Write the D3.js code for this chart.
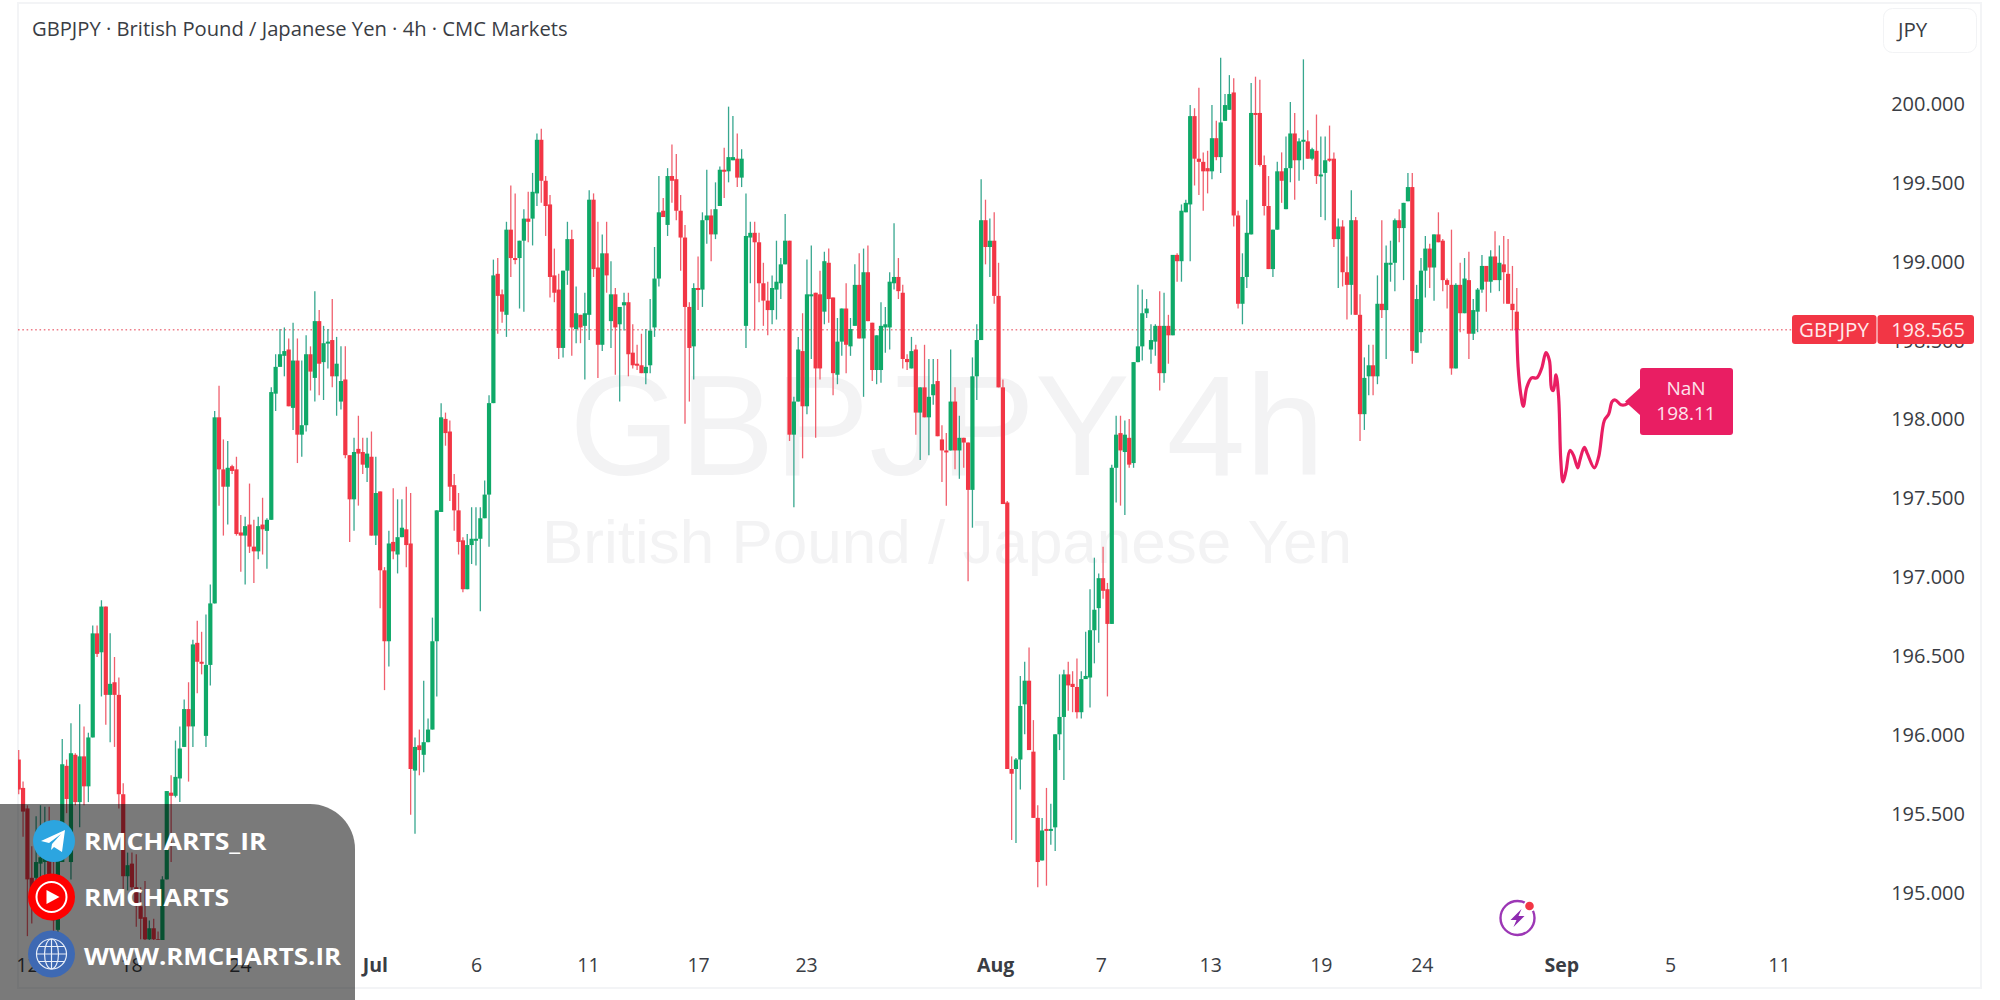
<!DOCTYPE html>
<html><head><meta charset="utf-8">
<script src="https://cdn.jsdelivr.net/npm/d3@7/dist/d3.min.js"></script>
<style>html,body{margin:0;padding:0;background:#fff;overflow:hidden}svg{display:block}</style>
</head><body><svg id="c" width="2000" height="1000"></svg>
<script>
const opens=[195.84,195.66,195.53,195.09,195.09,195.18,195.19,195.22,194.97,194.76,
195.19,195.80,195.19,195.87,195.57,195.86,195.67,195.98,196.64,196.52,
196.81,196.25,196.33,196.25,195.62,195.10,195.18,195.03,194.91,194.84,
194.70,194.77,194.70,194.60,195.08,195.63,195.61,195.72,195.92,196.16,
196.05,196.58,196.46,195.99,196.44,196.83,198.01,197.68,197.57,197.70,
197.68,197.28,197.26,197.33,197.19,197.16,197.33,197.29,197.36,198.16,
198.33,198.40,198.44,198.07,198.37,197.90,197.96,198.41,198.26,198.62,
198.36,198.48,198.50,198.27,198.11,198.25,197.77,197.49,197.81,197.79,
197.69,197.76,197.26,197.54,197.04,196.59,197.22,197.14,197.25,197.30,
197.21,195.77,195.93,195.87,195.95,196.03,196.59,197.41,198.00,197.92,
197.58,197.42,197.23,196.92,197.20,197.23,197.24,197.37,197.52,198.10,
198.92,198.79,198.66,199.20,199.02,199.02,199.13,199.27,199.27,199.43,
199.77,199.51,199.36,198.91,198.82,198.45,198.94,199.14,198.57,198.66,
198.59,198.66,199.39,198.96,198.47,199.05,198.62,198.79,198.60,198.72,
198.74,198.42,198.35,198.34,198.29,198.34,198.58,198.89,199.32,199.23,
199.54,199.52,199.32,199.15,198.71,198.46,198.83,198.82,199.26,199.29,
199.17,199.35,199.58,199.57,199.64,199.65,199.53,198.59,199.15,199.18,
199.12,198.86,198.75,198.69,198.82,198.86,198.98,199.13,197.90,198.11,
198.43,198.08,198.78,198.80,198.79,198.68,198.99,198.77,198.28,198.49,
198.70,198.46,198.59,198.85,198.51,198.93,198.61,198.31,198.31,198.58,
198.58,198.86,198.90,198.80,198.38,198.32,198.44,198.04,198.20,198.01,
198.15,198.24,197.87,197.80,197.80,198.11,197.80,197.88,197.85,197.55,
198.27,198.50,199.26,199.09,199.13,198.78,198.20,197.47,195.78,195.78,
195.84,196.19,196.34,195.89,195.47,195.20,195.40,195.39,195.41,196.00,
196.11,196.38,196.32,196.30,196.14,196.35,196.36,196.66,196.80,196.99,
196.92,196.70,197.69,197.91,197.79,197.88,197.72,198.36,198.46,198.67,
198.44,198.49,198.59,198.29,198.59,198.53,199.04,199.00,199.31,199.36,
199.92,199.65,199.63,199.59,199.57,199.78,199.66,199.89,199.96,200.07,
199.29,198.73,198.90,199.17,199.94,199.94,199.61,199.35,198.95,199.20,
199.57,199.33,199.59,199.81,199.64,199.76,199.76,199.65,199.70,199.54,
199.56,199.65,199.65,199.14,199.22,198.93,198.85,199.26,198.66,198.03,
198.27,198.34,198.27,198.73,198.69,198.99,198.99,199.26,199.21,199.38,
199.47,198.42,198.55,198.94,199.08,198.96,199.17,199.13,198.88,198.85,
198.32,198.85,198.67,198.88,198.54,198.68,198.82,198.97,198.87,199.03,
198.88,198.98,198.92,198.73,198.68];
const closes=[195.65,195.51,195.08,194.99,195.19,195.22,195.22,194.97,194.82,195.24,
195.81,195.59,195.88,195.57,195.86,195.67,195.98,196.64,196.51,196.81,
196.25,196.32,196.25,195.62,195.10,195.17,195.03,194.91,194.83,194.70,
194.77,194.70,194.60,195.08,195.64,195.61,195.73,195.91,196.16,196.05,
196.57,196.46,196.45,196.44,196.83,198.01,197.68,197.57,197.69,197.67,
197.27,197.26,197.32,197.19,197.16,197.32,197.30,197.36,198.17,198.33,
198.41,198.43,198.08,198.37,197.90,197.96,198.41,198.30,198.62,198.35,
198.48,198.49,198.27,198.35,198.24,197.77,197.49,197.79,197.78,197.71,
197.78,197.26,197.53,197.04,196.59,197.21,197.16,197.25,197.31,197.20,
195.78,195.92,195.90,195.95,196.03,196.59,197.42,198.01,197.91,197.57,
197.42,197.22,196.92,197.20,197.24,197.24,197.37,197.52,198.10,198.91,
198.78,198.68,199.20,199.02,199.01,199.13,199.27,199.25,199.44,199.77,
199.51,199.35,198.90,198.80,198.45,198.94,199.14,198.58,198.67,198.58,
198.67,199.39,198.95,198.47,199.05,198.91,198.79,198.58,198.71,198.74,
198.41,198.34,198.34,198.29,198.33,198.56,198.89,199.31,199.28,199.54,
199.51,199.32,199.15,198.71,198.45,198.83,198.82,199.26,199.29,199.17,
199.33,199.58,199.57,199.66,199.66,199.53,199.65,199.16,199.18,199.12,
198.86,198.75,198.69,198.83,198.87,198.98,199.13,197.90,198.11,198.44,
198.08,198.79,198.79,198.32,198.32,199.00,198.76,198.29,198.49,198.70,
198.47,198.57,198.85,198.51,198.93,198.62,198.31,198.53,198.59,198.60,
198.87,198.90,198.81,198.38,198.36,198.43,198.04,198.20,198.01,198.14,
198.22,197.89,197.80,197.79,198.11,197.80,197.88,197.85,197.55,198.27,
198.50,199.26,199.09,199.13,198.78,198.20,197.46,195.78,195.75,195.84,
196.18,196.34,195.90,195.47,195.19,195.39,195.39,195.40,196.00,196.11,
196.38,196.31,196.30,196.14,196.35,196.37,196.66,196.79,196.99,196.91,
196.70,197.69,197.90,197.80,197.90,197.71,198.36,198.46,198.67,198.70,
198.50,198.59,198.29,198.59,198.53,199.04,199.00,199.32,199.37,199.92,
199.65,199.63,199.57,199.57,199.78,199.66,199.88,199.99,200.06,199.29,
198.73,198.90,199.18,199.94,199.93,199.61,199.35,198.95,199.20,199.57,
199.51,199.59,199.81,199.64,199.76,199.77,199.65,199.71,199.54,199.55,
199.64,199.64,199.14,199.22,198.93,198.85,199.26,198.66,198.03,198.26,
198.34,198.27,198.73,198.69,198.99,198.99,199.26,199.21,199.37,199.47,
198.43,198.76,198.94,199.08,198.96,199.17,199.12,198.88,198.85,198.32,
198.85,198.67,198.89,198.54,198.69,198.82,198.97,198.87,199.03,198.88,
198.99,198.93,198.73,198.69,198.565];
const highs=[195.90,195.70,195.55,195.29,195.48,195.55,195.54,195.54,195.24,195.24,
195.97,195.84,196.07,195.88,196.19,196.05,196.01,196.69,196.69,196.85,
196.81,196.64,196.49,196.36,195.69,195.25,195.25,195.24,195.03,195.07,
194.82,194.83,194.75,195.10,195.64,195.74,195.96,196.05,196.22,196.33,
196.60,196.72,196.65,196.76,196.95,198.05,198.21,197.87,197.86,197.71,
197.76,197.39,197.38,197.59,197.36,197.38,197.50,197.37,198.20,198.41,
198.57,198.58,198.51,198.61,198.51,198.37,198.53,198.46,198.81,198.69,
198.59,198.57,198.76,198.52,198.46,198.46,197.77,197.88,198.02,197.88,
197.88,197.92,197.76,197.54,197.06,197.29,197.56,197.49,197.49,197.57,
197.53,195.98,196.03,196.34,196.10,196.74,197.42,198.10,198.04,197.99,
197.65,197.53,197.25,197.27,197.44,197.44,197.44,197.61,198.15,199.01,
199.02,198.82,199.25,199.48,199.43,199.13,199.33,199.44,199.56,199.81,
199.84,199.54,199.42,199.08,198.92,198.94,199.25,199.20,198.84,198.66,
198.80,199.45,199.43,199.25,199.17,199.25,199.00,198.83,198.71,198.80,
198.80,198.60,198.47,198.54,198.57,198.76,199.09,199.54,199.40,199.59,
199.74,199.68,199.42,199.23,198.74,198.86,199.03,199.31,199.58,199.33,
199.50,199.60,199.72,199.98,199.92,199.81,199.71,199.43,199.25,199.25,
199.18,198.99,198.87,198.91,199.13,199.02,199.30,199.13,198.14,198.52,
198.67,199.01,199.10,198.80,198.94,199.06,199.08,198.77,198.64,198.70,
198.86,198.64,198.98,199.05,199.08,199.10,198.61,198.53,198.74,198.71,
198.93,199.24,199.02,198.85,198.41,198.52,198.47,198.20,198.47,198.38,
198.38,198.38,197.96,197.91,198.44,198.20,198.02,197.88,197.85,198.39,
198.60,199.52,199.39,199.27,199.31,198.99,198.25,197.48,195.86,195.85,
196.37,196.46,196.55,196.09,195.55,195.47,195.66,195.56,196.00,196.38,
196.41,196.46,196.40,196.48,196.40,196.65,196.92,197.12,197.02,197.19,
196.96,197.71,198.02,198.02,197.99,198.00,198.36,198.85,198.82,198.76,
198.60,198.60,198.81,198.80,198.66,199.04,199.05,199.36,199.39,199.99,
199.97,200.10,199.69,199.70,199.99,199.89,200.29,200.06,200.18,200.16,
199.32,199.05,199.39,200.13,200.17,200.15,199.67,199.54,199.20,199.63,
199.69,199.79,200.01,199.94,199.78,200.28,199.83,199.72,199.93,199.79,
199.79,199.86,199.69,199.27,199.26,199.03,199.45,199.28,198.79,198.39,
198.47,198.47,198.91,199.26,199.10,199.13,199.27,199.33,199.37,199.56,
199.56,198.85,199.02,199.16,199.11,199.17,199.31,199.14,198.89,199.20,
198.86,198.99,199.02,199.06,198.76,198.83,199.04,198.97,199.07,199.19,
199.10,199.16,199.14,198.97,198.83];
const lows=[195.62,195.35,194.72,194.80,194.99,194.99,195.01,194.86,194.72,194.72,
195.19,195.50,195.08,195.55,195.41,195.55,195.57,195.98,196.49,196.24,
196.06,195.95,195.92,195.53,194.91,195.01,194.99,194.78,194.70,194.68,
194.68,194.68,194.50,194.50,195.08,195.19,195.60,195.57,195.92,195.70,
195.92,196.26,196.38,195.92,196.31,196.83,197.45,197.26,197.33,197.65,
197.26,197.03,196.95,197.15,196.96,197.11,197.14,197.05,197.36,198.05,
198.33,198.27,198.08,197.93,197.72,197.76,197.92,198.18,198.11,198.15,
198.12,198.32,198.20,198.02,198.06,197.75,197.22,197.29,197.45,197.65,
197.60,197.26,197.20,196.80,196.28,196.43,197.11,197.02,197.25,197.06,
195.49,195.37,195.74,195.76,195.95,196.03,196.24,197.41,197.83,197.48,
197.29,197.14,196.90,196.92,197.08,197.07,196.78,197.37,197.19,198.10,
198.54,198.61,198.52,198.90,198.98,198.70,198.68,199.12,199.10,199.35,
199.37,199.16,198.77,198.74,198.38,198.39,198.85,198.40,198.48,198.48,
198.25,198.50,198.90,198.26,198.43,198.80,198.45,198.28,198.11,198.56,
198.27,198.32,198.31,198.29,198.22,198.29,198.52,198.84,199.28,199.16,
199.37,199.26,198.94,197.97,198.11,198.25,198.69,198.71,199.11,199.00,
199.14,199.35,199.40,199.50,199.64,199.47,199.47,198.45,198.86,198.56,
198.74,198.59,198.53,198.60,198.63,198.76,198.98,197.86,197.44,198.11,
197.75,198.03,198.38,197.88,198.25,198.60,198.61,198.15,198.22,198.40,
198.29,198.40,198.59,198.51,198.14,198.62,198.24,198.22,198.23,198.42,
198.44,198.82,198.76,198.32,198.31,198.32,197.90,197.74,198.01,197.77,
198.09,197.89,197.60,197.45,197.80,197.68,197.62,197.69,196.97,197.31,
198.12,198.50,198.98,198.90,198.73,198.20,197.46,195.78,195.33,195.31,
195.65,196.00,195.90,195.47,195.03,195.20,195.04,195.30,195.26,195.90,
195.71,196.15,196.14,196.10,196.10,196.35,196.17,196.45,196.58,196.86,
196.24,196.70,197.47,197.45,197.39,197.69,197.69,198.36,198.37,198.64,
198.35,198.40,198.18,198.23,198.35,198.53,198.87,198.87,199.31,199.00,
199.48,199.42,199.32,199.43,199.52,199.64,199.56,199.89,199.96,199.22,
198.70,198.60,198.83,199.17,199.61,199.60,199.29,198.95,198.90,199.20,
199.37,199.33,199.50,199.39,199.51,199.58,199.65,199.64,199.49,199.28,
199.26,199.63,199.09,198.83,198.84,198.63,198.66,198.66,197.86,197.93,
198.15,198.15,198.22,198.64,198.38,198.87,198.81,199.12,198.88,199.38,
198.35,198.42,198.48,198.77,198.83,198.75,199.12,198.81,198.70,198.28,
198.32,198.55,198.67,198.38,198.50,198.55,198.80,198.68,198.80,198.88,
198.81,198.73,198.73,198.56,198.56];

const forecastBars=[344,344.3,344.9,345.5,346.3,347.4,348.6,349.7,350.7,351.5,352,352.4,353,353.6,354.1,354.6,355.3,356.2,357,358,358.5,359.5,360.2,361.8,362.8,364.1,365.1,365.9,366.6,367.9,368.9,370];
const forecastPrices=[198.565,198.33,198.16,198.08,198.20,198.26,198.26,198.32,198.42,198.37,198.19,198.18,198.28,198.14,197.74,197.60,197.67,197.80,197.77,197.69,197.74,197.82,197.78,197.69,197.76,197.99,198.03,198.11,198.12,198.09,198.09,198.11];

const priceTicks=[200,199.5,199,198.5,198,197.5,197,196.5,196,195.5,195];
const timeBars=[1.9,25.8,50.8,81.8,105,130.7,156,180.8,224.2,248.5,273.6,299,322.2,354.2,379.2,404.2];
const timeLabels=["12","18","24","Jul","6","11","17","23","Aug","7","13","19","24","Sep","5","11"];
const boldLabels=["Jul","Aug","Sep"];
const lastPrice=198.565;
const titleText="GBPJPY · British Pound / Japanese Yen · 4h · CMC Markets";
const socials=["RMCHARTS_IR","RMCHARTS","WWW.RMCHARTS.IR"];

const UP="#0fa968",DOWN="#f23645",UPW="#37a78f",DOWNW="#f0606e",PINK="#e91e63",TXT="#3a3d44";
const FONT="'Open Sans',sans-serif";

const svg=d3.select("#c");
const x=d3.scaleLinear().domain([0,344]).range([18.7,1516.8]);
const y=d3.scaleLinear().domain([195,200]).range([892,103.5]);

svg.append("rect").attr("width",2000).attr("height",1000).attr("fill","#fff");
const frame=svg.append("g").attr("fill","#f3f4f6");
frame.append("rect").attr("x",17).attr("y",2).attr("width",1965).attr("height",2);
frame.append("rect").attr("x",17).attr("y",2).attr("width",2).attr("height",986);
frame.append("rect").attr("x",1980).attr("y",2).attr("width",2).attr("height",986);
frame.append("rect").attr("x",17).attr("y",987).attr("width",1965).attr("height",2);

const defs=svg.append("defs");
defs.append("clipPath").attr("id","plot").append("rect").attr("x",18).attr("y",5).attr("width",1960).attr("height",935);

// watermark
const wm=svg.append("g").attr("fill","#f3f3f4").attr("font-family","'Liberation Sans',Arial,sans-serif").attr("text-anchor","middle");
wm.append("text").attr("x",947).attr("y",475).attr("font-size",142).text("GBPJPY 4h");
wm.append("text").attr("x",947).attr("y",563).attr("font-size",62).text("British Pound / Japanese Yen");

// title
svg.append("text").attr("x",32).attr("y",36).attr("font-family",FONT).attr("font-size",20.2).attr("fill",TXT).text(titleText);

const plot=svg.append("g").attr("clip-path","url(#plot)");
plot.append("line").attr("x1",18).attr("x2",1792).attr("y1",y(lastPrice)).attr("y2",y(lastPrice))
  .attr("stroke","#ee7f8a").attr("stroke-width",1.5).attr("stroke-dasharray","1.6 2.7");

const idx=d3.range(opens.length);
plot.append("g").selectAll("line").data(idx).join("line")
  .attr("x1",i=>x(i)).attr("x2",i=>x(i)).attr("y1",i=>y(highs[i])).attr("y2",i=>y(lows[i]))
  .attr("stroke",i=>closes[i]>=opens[i]?UPW:DOWNW).attr("stroke-width",1.3);
plot.append("g").selectAll("rect").data(idx).join("rect")
  .attr("x",i=>x(i)-2.1).attr("width",4.2)
  .attr("y",i=>y(Math.max(opens[i],closes[i])))
  .attr("height",i=>Math.max(2,Math.abs(y(opens[i])-y(closes[i]))))
  .attr("fill",i=>closes[i]>=opens[i]?UP:DOWN);

// forecast
const line=d3.line().x((d,i)=>x(forecastBars[i])).y(d=>y(d)).curve(d3.curveCatmullRom.alpha(0.5));
plot.append("path").attr("d",line(forecastPrices)).attr("fill","none").attr("stroke",PINK).attr("stroke-width",3.2).attr("stroke-linejoin","round").attr("stroke-linecap","round");

// callout
const tipX=x(forecastBars[forecastBars.length-1]);
const tipY=y(forecastPrices[forecastPrices.length-1]);
svg.append("path").attr("fill",PINK).attr("d",`M${tipX-5},${tipY} L1640,388 V415 Z`);
svg.append("rect").attr("x",1640).attr("y",368).attr("width",93).attr("height",67).attr("rx",3).attr("fill",PINK);
const ct=svg.append("g").attr("font-family",FONT).attr("font-size",19).attr("fill","#fde3ec").attr("text-anchor","middle");
ct.append("text").attr("x",1686).attr("y",395).text("NaN");
ct.append("text").attr("x",1686).attr("y",420).text(forecastPrices[forecastPrices.length-1].toFixed(2));

// price axis
const axisR=svg.append("g").attr("transform","translate(1965,0)")
  .call(d3.axisLeft(y).tickValues(priceTicks).tickFormat(d3.format(".3f")).tickSize(0).tickPadding(0));
axisR.select(".domain").remove();
axisR.selectAll("text").attr("font-family",FONT).attr("font-size",20).attr("fill",TXT).attr("dy","0.35em");

// time axis
const axisB=svg.append("g").attr("transform","translate(0,958)")
  .call(d3.axisBottom(x).tickValues(timeBars).tickFormat((d,i)=>timeLabels[i]).tickSize(0).tickPadding(0));
axisB.select(".domain").remove();
axisB.selectAll("text").attr("font-family",FONT).attr("font-size",19.5).attr("fill",TXT).attr("dy","0.7em")
  .attr("font-weight",(d,i)=>boldLabels.includes(timeLabels[i])?700:400);

// JPY button
svg.append("rect").attr("x",1883.5).attr("y",8.5).attr("width",93).attr("height",44).attr("rx",9).attr("fill","#fff").attr("stroke","#f2f3f5");
svg.append("text").attr("x",1898).attr("y",37).attr("font-family",FONT).attr("font-size",20.5).attr("fill",TXT).text("JPY");

// last price label
svg.append("rect").attr("x",1792).attr("y",315).attr("width",84.5).attr("height",29).attr("rx",3).attr("fill",DOWN);
svg.append("rect").attr("x",1877.5).attr("y",315).attr("width",96.5).attr("height",29).attr("rx",3).attr("fill",DOWN);
svg.append("text").attr("x",1834).attr("y",337).attr("text-anchor","middle").attr("font-family",FONT).attr("font-size",20.5).attr("fill","#ffe9eb").text("GBPJPY");
svg.append("text").attr("x",1965).attr("y",337).attr("text-anchor","end").attr("font-family",FONT).attr("font-size",20).attr("fill","#ffe9eb").text(lastPrice.toFixed(3));

// bolt icon
const bolt=svg.append("g").attr("transform","translate(1517.5,918)");
bolt.append("circle").attr("r",17).attr("fill","#fff").attr("stroke","#9c37b5").attr("stroke-width",2.4);
bolt.append("path").attr("d","M4,-9 L-7,2 L-1,2 L-4,9 L7,-2 L1,-2 Z").attr("fill","#8e2bb0");
bolt.append("circle").attr("cx",12).attr("cy",-12).attr("r",6).attr("fill","#fff");
bolt.append("circle").attr("cx",12).attr("cy",-12).attr("r",4.3).attr("fill",DOWN);

// overlay panel
svg.append("path").attr("d","M0,804 H310 A45,45 0 0 1 355,849 V1000 H0 Z").attr("fill","#000").attr("fill-opacity",0.52);
const tg=svg.append("g").attr("transform","translate(54,841)");
tg.append("circle").attr("r",21).attr("fill","#2ca5e0");
tg.append("path").attr("d","M-13,0 L11,-11 L8,11 L0,6 L-3,9 L-2,3 L7,-7 L-5,2 Z").attr("fill","#fff");
const yt=svg.append("g").attr("transform","translate(51.5,897)");
yt.append("circle").attr("r",23.5).attr("fill","#ff0000");
yt.append("circle").attr("r",15).attr("fill","none").attr("stroke","#fff").attr("stroke-width",2);
yt.append("path").attr("d","M-5,-7 L8,0 L-5,7 Z").attr("fill","#fff");
const gl=svg.append("g").attr("transform","translate(51.5,954)");
gl.append("circle").attr("r",23.5).attr("fill","#3e69b3");
const gg=gl.append("g").attr("fill","none").attr("stroke","#e8eef8").attr("stroke-width",1.2);
gg.append("circle").attr("r",15);
gg.append("ellipse").attr("rx",7).attr("ry",15);
gg.append("path").attr("d","M0,-15 V15 M-15,0 H15 M-13,-7.5 H13 M-13,7.5 H13");
svg.append("g").attr("fill","#fff").attr("font-family","'Open Sans',sans-serif").attr("font-weight",700).attr("font-size",24)
  .selectAll("text").data(socials).join("text")
  .attr("x",84).attr("y",(d,i)=>[850,906,965][i])
  .attr("textLength",(d,i)=>[182.5,145,257][i]).attr("lengthAdjust","spacingAndGlyphs").text(d=>d);
</script></body></html>
